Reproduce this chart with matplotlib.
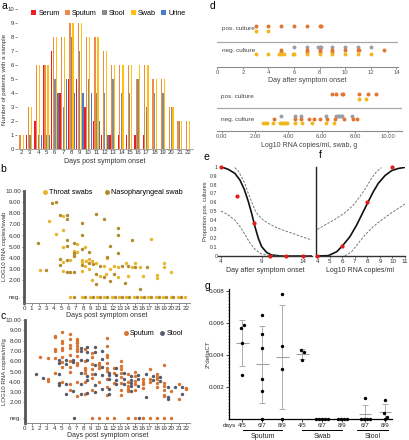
import matplotlib.pyplot as plt
import matplotlib.transforms as mtransforms
import numpy as np
from matplotlib.lines import Line2D

plt.rcParams['font.family'] = ['Liberation Sans', 'DejaVu Sans']

# ---------------- data ----------------
# a: number of patients with a sample per day
a_days = list(range(2, 23))
a_serum = [0, 1, 2, 6, 7, 4, 5, 5, 3, 2, 1, 1, 1, 1, 1, 1, 0, 0, 0, 0, 0]
a_sputum = [1, 3, 6, 6, 8, 8, 9, 9, 8, 8, 7, 6, 6, 6, 5, 6, 5, 5, 3, 2, 2]
a_stool = [0, 1, 1, 1, 5, 3, 8, 7, 5, 4, 4, 5, 4, 4, 5, 3, 4, 4, 3, 2, 0]
a_swab = [1, 3, 6, 6, 8, 8, 9, 9, 8, 8, 7, 6, 6, 6, 6, 6, 5, 5, 3, 2, 2]
a_urine = [0, 0, 1, 1, 4, 5, 4, 4, 4, 2, 1, 0, 0, 0, 0, 0, 0, 0, 0, 0, 0]

# b: swabs, log10 RNA copies
throat_day = [2.2, 3.3, 4.3, 5.2, 5.2, 5.2, 5.2, 5.2, 6.2, 7.2, 6.8, 6.8, 7.2, 8.2, 7.8, 7.8, 7.8,
              8.4, 8.2, 8.8, 8.8, 9.2, 9.2, 9.8, 10.3, 10.8, 11.1, 11.2, 11.7, 12.2, 12.8, 12.8,
              13.9, 14.1, 14.6, 15.1, 15.7, 16.2, 17.2, 18.1, 18.1, 19.0, 19.0, 20.0]
throat_val = [2.95, 7.3, 6.15, 7.75, 6.5, 5.0, 3.65, 2.85, 3.85, 5.25, 4.6, 4.3, 4.5, 4.95, 3.85, 3.65, 2.85,
              3.75, 3.25, 3.9, 3.0, 3.7, 2.0, 3.55, 2.4, 3.3, 2.55, 4.0, 3.0, 3.3, 3.2, 2.3,
              3.5, 2.35, 3.2, 3.5, 3.2, 2.4, 5.7, 2.45, 2.2, 3.5, 3.2, 2.7]
naso_day = [1.9, 2.9, 3.8, 4.3, 4.8, 5.8, 5.8, 5.8, 5.8, 4.9, 4.9, 5.8, 5.8, 6.2, 6.8, 6.8, 6.8, 6.8,
            7.8, 7.8, 7.8, 7.8, 8.8, 8.8, 9.3, 9.8, 9.8, 9.8, 10.3, 10.8, 10.8, 11.2, 11.7, 11.7,
            12.2, 12.8, 12.8, 12.8, 13.3, 13.7, 14.1, 14.7, 15.1, 15.7, 16.7]
naso_val = [5.35, 2.9, 8.9, 8.95, 7.85, 7.85, 7.45, 5.6, 5.1, 3.9, 3.4, 3.8, 2.7, 2.7, 5.35, 4.45, 4.2, 2.7,
            7.15, 6.05, 4.75, 3.4, 4.55, 3.5, 3.45, 7.95, 2.6, 1.7, 3.3, 7.45, 2.3, 4.1, 5.05, 1.95,
            2.55, 6.7, 6.0, 4.45, 3.3, 1.75, 3.3, 5.6, 3.2, 1.25, 3.15]
throat_neg_day = [6.2, 7.8, 8.9, 9.9, 10.9, 11.9, 12.9, 13.9, 14.9, 15.9, 16.9, 17.9, 18.9, 19.9, 20.9, 21.9]
naso_neg_day = [6.8, 8.2, 9.3, 10.3, 11.3, 12.3, 13.3, 14.3, 15.3, 16.3, 17.3, 18.3, 19.3, 20.3, 21.3]

# c: sputum and stool
sputum_day = ([2.1] + [3.2] * 3 + [4.1] * 6 + [5.1] * 9 + [6.1] * 10 + [7.15] * 11 + [8.15] * 7
              + [9.15] * 7 + [10.15] * 4 + [11.15] * 10 + [12.2] * 3 + [13.1] * 8 + [14.1] * 5
              + [15.1] * 5 + [16.1] * 4 + [17.1] * 3 + [18.1] * 5 + [19.0] * 6 + [20.0] + [21.0] * 2 + [22.0] * 2)
sputum_val = [6.45,
              6.35, 4.25, 4.05,
              8.45, 8.35, 7.2, 6.95, 6.35, 4.85,
              8.8, 8.0, 7.75, 7.3, 7.1, 6.45, 5.95, 5.45, 4.0,
              8.6, 8.15, 7.6, 7.3, 6.6, 6.05, 5.4, 4.95, 3.75, 3.2,
              8.2, 8.0, 7.75, 7.45, 7.2, 6.95, 6.5, 5.8, 5.6, 4.0, 2.65,
              7.2, 6.05, 5.35, 5.1, 4.85, 4.0, 2.8,
              6.8, 6.4, 5.75, 5.2, 4.8, 4.4, 3.2,
              5.85, 5.6, 5.3, 4.0,
              8.25, 7.45, 6.6, 6.4, 5.85, 5.3, 5.05, 4.25, 3.5, 2.75,
              5.3, 4.9, 3.85,
              6.0, 5.5, 5.2, 4.9, 4.5, 3.85, 3.2, 2.7,
              4.75, 3.95, 3.6, 3.3, 3.15,
              5.0, 4.6, 4.1, 3.8, 3.2,
              4.25, 4.0, 3.8, 3.4,
              5.2, 4.25, 4.0,
              4.75, 4.5, 4.3, 3.9, 3.5,
              5.6, 3.9, 3.6, 3.2, 2.75, 2.6,
              3.15,
              3.8, 2.3,
              3.4, 3.3]
stool_day = ([1.5, 2.5] + [4.6] * 5 + [5.6] * 4 + [6.6] * 3 + [7.6] * 6 + [8.5] * 6 + [9.5] * 6
             + [10.5] * 5 + [11.5] * 5 + [12.5] * 4 + [13.5] * 3 + [14.5] * 5 + [15.5] * 3
             + [16.5] * 2 + [17.5] * 2 + [18.5] * 2 + [19.5] * 3 + [20.5] + [21.5] * 2)
stool_val = [4.75, 4.4,
             6.1, 5.85, 4.75, 3.85, 3.7,
             6.1, 5.75, 3.75, 2.8,
             6.15, 5.9, 3.1,
             7.25, 6.95, 6.1, 4.9, 3.8, 2.85,
             7.4, 6.9, 6.1, 4.6, 4.2, 2.95,
             7.4, 6.9, 5.6, 4.75, 3.7, 3.0,
             7.0, 6.2, 5.45, 4.7, 3.3,
             4.9, 4.7, 4.3, 3.3, 2.85,
             5.3, 4.7, 4.2, 3.75,
             4.9, 4.25, 3.8,
             4.55, 4.2, 3.9, 3.6, 3.1,
             4.7, 4.3, 3.55,
             4.75, 2.5,
             4.6, 4.2,
             4.5, 4.1,
             3.5, 2.5, 2.35,
             3.5,
             3.5, 2.85]
sputum_neg_day = [9.15, 10.15, 11.15, 12.2, 14.1, 15.1, 16.1, 17.1, 18.1, 19.0, 20.0]
stool_neg_day = [6.7, 15.6]

# d: culture result by day / by RNA load
d1_pos_sputum = [3, 4, 5, 6, 7, 8, 8.1]
d1_pos_swab = [3, 4]
d1_neg_stool = [6, 7, 7.9, 8, 8.1, 9, 10, 11, 12]
d1_neg_sputum = [5, 5, 7, 7, 8, 8, 9, 9, 10, 11, 11.1, 13]
d1_neg_swab = [3, 4, 4.8, 5, 5.2, 5.9, 6, 7, 8, 9, 10, 11, 12]
d2_pos_sputum = [6.63, 6.87, 7.19, 7.27, 8.23, 8.8, 9.28]
d2_pos_swab = [8.23, 8.67]
d2_neg_stool = [3.57, 4.42, 4.78, 6.26, 6.87, 6.97, 7.05, 7.13, 7.23, 7.83]
d2_neg_sputum = [3.11, 4.42, 4.78, 5.22, 5.52, 5.92, 6.33, 6.78, 7.33, 7.87, 8.13]
d2_neg_swab = [2.45, 2.58, 2.7, 3.05, 3.51, 3.62, 3.72, 3.82, 3.92, 4.42, 4.82, 5.42, 6.26, 6.72]

# e: proportion positive cultures by day
e_day = [4, 6, 8, 10, 12, 14]
e_prop = [1.0, 0.667, 0.375, 0, 0, 0]
e_fit_x = [4.0, 4.9, 5.7, 6.33, 6.86, 7.35, 7.75, 8.16, 8.57, 8.98, 9.59, 10.2, 11.4, 15.1]
e_fit_y = [1.0, 0.97, 0.926, 0.85, 0.745, 0.61, 0.48, 0.33, 0.2, 0.105, 0.04, 0.011, 0.0, 0.0]
e_hi_x = [5.7, 6.1, 6.5, 6.95, 7.35, 7.75, 8.15, 8.55, 9.2, 10.0, 11.0, 12.0, 13.05, 14.1, 15.1]
e_hi_y = [0.99, 0.955, 0.89, 0.805, 0.70, 0.61, 0.515, 0.46, 0.40, 0.355, 0.31, 0.277, 0.245, 0.21, 0.18]
e_lo_x = [4.0, 4.9, 5.71, 6.33, 6.94, 7.55, 8.16, 8.78, 9.59, 10.6, 15.1]
e_lo_y = [0.504, 0.46, 0.4, 0.33, 0.24, 0.145, 0.077, 0.03, 0.01, 0.0, 0.0]

# f: proportion positive cultures by RNA load
f_load = [4, 6, 8, 10]
f_prop = [0, 0.116, 0.6, 1.0]
f_fit_x = [4.0, 4.88, 5.55, 6.02, 6.6, 7.14, 7.67, 8.07, 8.47, 8.87, 9.4, 9.93, 10.46, 11.0]
f_fit_y = [0.0, 0.004, 0.048, 0.116, 0.216, 0.347, 0.497, 0.61, 0.72, 0.814, 0.9, 0.956, 0.98, 0.993]
f_hi_x = [4.0, 4.61, 5.41, 6.2, 6.87, 7.4, 7.93, 8.33, 8.73, 9.13]
f_hi_y = [0.298, 0.347, 0.41, 0.485, 0.57, 0.665, 0.776, 0.87, 0.945, 0.99]
f_lo_x = [6.2, 6.73, 7.27, 7.8, 8.47, 9.13, 9.93, 11.0]
f_lo_y = [0.0, 0.048, 0.142, 0.235, 0.33, 0.403, 0.485, 0.582]

# g: 2^deltaCT by sample type and day pair
g_labels = ['4/5', '6/7', '8/9', '4/5', '6/7', '8/9', '6/7', '8/9']
g_groups = ['Sputum', 'Swab', 'Stool']
g_values = [[0.0057, 0.00585, 0.00472, 0.00273],
            [0.00648, 0.0053, 0.0044, 0.00248, 0.00173, 0.0],
            [0.0078, 0.00456, 0.00309, 0.0],
            [0.0043, 0.00415, 0.00367],
            [0.0, 0.0, 0.0, 0.0, 0.0],
            [0.0, 0.0, 0.0, 0.0],
            [0.00127, 0.0, 0.0, 0.0, 0.0],
            [0.00113, 0.00034, 0.00012, 0.0]]

# ---------------- figure ----------------
W, H = 410, 440
fig = plt.figure(figsize=(W / 100, H / 100), dpi=100)

TICK = 4.5
LAB = 5.0
YLAB = 4.4
GREYTXT = '#333333'


def px_axes(x0, y0, x1, y1):
    return fig.add_axes([x0 / W, 1 - y1 / H, (x1 - x0) / W, (y1 - y0) / H])


def letter(x, y, s):
    fig.text(x / W, 1 - y / H, s, fontsize=7.5, ha='left', va='center')


def ylabel_at(ax, text, px_x, size=YLAB):
    # put the y label centre at a given figure pixel column
    ax.set_ylabel(text, fontsize=size, color=GREYTXT, va='center')
    bb = ax.get_position()
    ax.yaxis.set_label_coords((px_x / W - bb.x0) / bb.width, 0.5)


# ---- a ----
ax = px_axes(17, 9.3, 193, 149)
series = [('Serum', a_serum, '#ee1d23'), ('Sputum', a_sputum, '#f08a4b'),
          ('Stool', a_stool, '#8a8a8a'), ('Swab', a_swab, '#fdc20f'), ('Urine', a_urine, '#4a7bc8')]
x = np.array(a_days)
for i, (name, vals, col) in enumerate(series):
    ax.bar(x + (i - 2) * 0.19, vals, width=0.155, color=col, label=name)
ax.set_xlim(1.45, 22.6)
ax.set_ylim(0, 10)
ax.set_xticks(a_days)
ax.set_yticks(range(0, 11))
for s in ['top', 'right', 'left']:
    ax.spines[s].set_visible(False)
ax.spines['bottom'].set_color('#999999')
ax.spines['bottom'].set_linewidth(0.6)
ax.tick_params(labelsize=4.3, length=1.2, width=0.4, pad=1, colors=GREYTXT)
ax.tick_params(axis='x', length=0)
ax.set_xlabel('Days post symptom onset', fontsize=LAB, labelpad=2, color=GREYTXT)
ylabel_at(ax, 'Number of patients with a sample', 5)
ax.legend(ncol=5, loc='upper left', bbox_to_anchor=(0.065, 1.015), frameon=False, fontsize=5.2,
          handlelength=0.7, handleheight=0.7, handletextpad=0.3, columnspacing=0.7, borderaxespad=0)
letter(1, 6, 'a')


def log_axes(ax):
    ax.set_xlim(0, 22.55)
    ax.set_ylim(0, 10)
    ax.set_xticks(range(0, 23))
    ax.set_yticks([0.5] + list(range(2, 11)))
    ax.set_yticklabels(['neg.'] + ['%.2f' % v for v in range(2, 11)])
    for s in ['top', 'right']:
        ax.spines[s].set_visible(False)
    ax.spines['left'].set_linewidth(2)
    ax.spines['left'].set_color('#555555')
    ax.spines['bottom'].set_linewidth(0.6)
    ax.spines['bottom'].set_color('#777777')
    ax.tick_params(labelsize=TICK, length=1.5, width=0.4, pad=1, colors=GREYTXT)
    ax.set_xlabel('Days post symptom onset', fontsize=LAB, labelpad=0.3, color=GREYTXT)


# ---- b ----
yel, dark = '#e8b52a', '#b08a2c'
ax = px_axes(24.3, 190.7, 190, 302.7)
ax.scatter(throat_day, throat_val, s=6, color=yel, lw=0, clip_on=False)
ax.scatter(naso_day, naso_val, s=6, color=dark, lw=0, clip_on=False)
ax.scatter(throat_neg_day, [0.5] * len(throat_neg_day), s=6, color=yel, lw=0)
ax.scatter(naso_neg_day, [0.5] * len(naso_neg_day), s=6, color=dark, lw=0)
log_axes(ax)
ylabel_at(ax, 'LOG10 RNA copies/swab', 4.5)
hb = [Line2D([], [], marker='o', ls='', color=yel, ms=2.5, label='Throat swabs'),
      Line2D([], [], marker='o', ls='', color=dark, ms=2.5, label='Nasopharyngeal swab')]
ax.legend(handles=hb, ncol=2, loc='upper left', bbox_to_anchor=(0.09, 1.04), frameon=False,
          fontsize=5.2, handlelength=0.8, handletextpad=0.2, columnspacing=1.6, borderaxespad=0)
letter(0.5, 169, 'b')

# ---- c ----
org, gry = '#d8722e', '#555c6b'
ax = px_axes(25, 320, 190, 423)
ax.scatter(sputum_day, sputum_val, s=6, color=org, lw=0, clip_on=False)
ax.scatter(stool_day, stool_val, s=6, color=gry, lw=0, clip_on=False)
ax.scatter(sputum_neg_day, [0.5] * len(sputum_neg_day), s=6, color=org, lw=0)
ax.scatter(stool_neg_day, [0.5] * len(stool_neg_day), s=6, color=gry, lw=0)
log_axes(ax)
ylabel_at(ax, 'LOG10 RNA copies/ml/g', 4.5)
hc = [Line2D([], [], marker='o', ls='', color=org, ms=2.5, label='Sputum'),
      Line2D([], [], marker='o', ls='', color=gry, ms=2.5, label='Stool')]
ax.legend(handles=hc, ncol=2, loc='center left', bbox_to_anchor=(0.575, 0.865), frameon=False,
          fontsize=5.2, handlelength=0.8, handletextpad=0.2, columnspacing=0.6, borderaxespad=0)
letter(0.5, 316, 'c')

# ---- d ----
d_org, d_yel, d_gry = '#e0762f', '#f2b71f', '#9a9ea8'


def stacked(vals):
    # repeated values stack upward by one dot
    out = []
    for i, v in enumerate(vals):
        out.append(vals[:i].count(v))
    return np.array(out)


def culture_axes(ax, rows, pos_sp, pos_sw, neg_st, neg_sp, neg_sw):
    ax.axhline(rows['sep'], color='#a8a8a8', lw=0.9)
    ax.scatter(pos_sp, [rows['pos_sp']] * len(pos_sp), s=8, color=d_org, lw=0, zorder=3)
    ax.scatter(pos_sw, [rows['pos_sw']] * len(pos_sw), s=8, color=d_yel, lw=0, zorder=3)
    ax.scatter(neg_st, [rows['neg_st']] * len(neg_st), s=8, color=d_gry, lw=0, zorder=3)
    ax.scatter(neg_sp, rows['neg_sp'] - 2 * stacked(neg_sp), s=8, color=d_org, lw=0, zorder=3)
    ax.scatter(neg_sw, [rows['neg_sw']] * len(neg_sw), s=8, color=d_yel, lw=0, zorder=3)
    tr = mtransforms.blended_transform_factory(ax.transAxes, ax.transData)
    ax.text(0.025, (rows['pos_sp'] + rows['pos_sw']) / 2, 'pos. culture', transform=tr,
            fontsize=4.6, va='center', color='#444444')
    ax.text(0.025, rows['neg_st'] - 3, 'neg. culture', transform=tr,
            fontsize=4.6, va='center', color='#444444')
    for s in ['top', 'right', 'left']:
        ax.spines[s].set_visible(False)
    ax.spines['bottom'].set_color('#8c8c8c')
    ax.spines['bottom'].set_linewidth(0.8)
    ax.set_yticks([])
    ax.tick_params(labelsize=4.2, length=1.5, width=0.5, pad=1, colors='#555555')


ax = px_axes(217.3, 18.7, 397.7, 66.7)
ax.set_xlim(0, 14.1)
ax.set_ylim(0, 48)
culture_axes(ax, dict(pos_sp=40.4, pos_sw=36, sep=25, neg_st=19.4, neg_sp=16.7, neg_sw=12.7),
             d1_pos_sputum, d1_pos_swab, d1_neg_stool, d1_neg_sputum, d1_neg_swab)
ax.set_xticks(range(0, 15, 2))
ax.set_xlabel('Day after symptom onset', fontsize=5.0, labelpad=1.5, color='#444444')
letter(210, 6, 'd')

ax = px_axes(216.7, 85, 401.7, 131)
ax.set_xlim(-0.3, 10.8)
ax.set_ylim(0, 46)
culture_axes(ax, dict(pos_sp=36.7, pos_sw=32.3, sep=22.7, neg_st=15, neg_sp=11.7, neg_sw=8.3),
             d2_pos_sputum, d2_pos_swab, d2_neg_stool, d2_neg_sputum, d2_neg_swab)
ax.set_xticks(range(0, 11, 2))
ax.set_xticklabels(['%.2f' % v for v in range(0, 11, 2)])
ax.set_xlabel('Log10 RNA copies/ml, swab, g', fontsize=5.0, labelpad=1.5, color='#444444')

# ---- e / f ----
red = '#e3191c'


def prop_axes(ax):
    ax.set_ylim(0, 1)
    for s in ['top', 'right']:
        ax.spines[s].set_visible(False)
    ax.spines['bottom'].set_linewidth(1.0)
    ax.spines['bottom'].set_color('#333333')
    ax.tick_params(labelsize=TICK, length=1.5, width=0.5, pad=1, colors=GREYTXT)


ax = px_axes(218.5, 166.7, 311.6, 256)
ax.plot(e_fit_x, e_fit_y, color='#111111', lw=1.2)
ax.plot(e_hi_x, e_hi_y, color='#777777', lw=0.7, ls=(0, (2.5, 1.5)))
ax.plot(e_lo_x, e_lo_y, color='#777777', lw=0.7, ls=(0, (2.5, 1.5)))
ax.scatter(e_day, e_prop, s=9, color=red, lw=0, zorder=4, clip_on=False)
ax.set_xlim(3.7, 15.1)
prop_axes(ax)
ax.spines['left'].set_visible(False)
ax.set_xticks([4, 9, 14])
ax.set_yticks(np.arange(0, 1.01, 0.1))
ax.set_yticklabels(['0'] + ['%.1f' % v for v in np.arange(0.1, 0.95, 0.1)] + ['1'])
ax.tick_params(axis='y', labelsize=3.8, length=0, pad=0.8)
ax.set_xlabel('Day after symptom onset', fontsize=LAB, labelpad=1.5, color=GREYTXT)
ylabel_at(ax, 'Proportion pos. cultures', 205.8, size=4.1)
letter(204, 157, 'e')

ax = px_axes(315.7, 166.7, 405, 256)
ax.plot(f_fit_x, f_fit_y, color='#111111', lw=1.2)
ax.plot(f_hi_x, f_hi_y, color='#777777', lw=0.7, ls=(0, (2.5, 1.5)))
ax.plot(f_lo_x, f_lo_y, color='#777777', lw=0.7, ls=(0, (2.5, 1.5)))
ax.scatter(f_load, f_prop, s=9, color=red, lw=0, zorder=4, clip_on=False)
ax.set_xlim(3.87, 11)
prop_axes(ax)
ax.spines['left'].set_linewidth(1.0)
ax.spines['left'].set_color('#222222')
ax.set_yticks([])
ax.set_xticks(range(4, 12))
ax.set_xlabel('Log10 RNA copies/ml', fontsize=LAB, labelpad=1.5, color=GREYTXT)
letter(319, 155, 'f')

# ---- g ----
ax = px_axes(229, 289.3, 392, 418.5)
g_pos = np.r_[0:6, 6.15, 7.15]
for p, vals in zip(g_pos, g_values):
    vals = np.array(vals)
    # spread near-equal values sideways
    offs = np.zeros(len(vals))
    used = np.zeros(len(vals), bool)
    for i in range(len(vals)):
        if used[i]:
            continue
        grp = [j for j in range(len(vals)) if not used[j] and abs(vals[j] - vals[i]) < 0.0003]
        for k, j in enumerate(grp):
            offs[j] = (k - (len(grp) - 1) / 2) * 0.15
            used[j] = True
    ax.scatter(p + offs, vals, s=6, color='black', lw=0, zorder=4, clip_on=False)
    m = vals.mean()
    sd = vals.std(ddof=1)
    ax.hlines(m, p - 0.32, p + 0.32, color='#a0a0a0', lw=0.8, zorder=3)
    ax.errorbar(p, m, yerr=sd, fmt='none', ecolor='#a0a0a0', elinewidth=0.6, capsize=2.2,
                capthick=0.6, zorder=3)
ax.set_xlim(-0.67, 7.5)
ax.set_ylim(0, 0.0081)
ax.set_yticks([0.002, 0.004, 0.006, 0.008])
ax.set_yticklabels(['0.002', '0.004', '0.006', '0.008'])
ax.set_yticks(np.arange(0, 0.0081, 0.0002), minor=True)
ax.set_xticks(g_pos)
ax.set_xticklabels(g_labels)
for s in ['top', 'right']:
    ax.spines[s].set_visible(False)
ax.spines['left'].set_linewidth(0.9)
ax.spines['bottom'].set_linewidth(0.9)
ax.tick_params(labelsize=TICK, length=2, width=0.6, pad=1, colors='#222222')
ax.tick_params(which='minor', length=1, width=0.4)
ylabel_at(ax, '2^deltaCT', 208)
tr = mtransforms.blended_transform_factory(ax.transData, ax.transAxes)
ax.text(-0.3, -0.058, 'days', transform=tr, fontsize=TICK, ha='right', va='center', color='#222222')
for name, x0, x1 in zip(g_groups, [0.05, 2.98, 5.73], [2.0, 5.0, 7.31]):
    ax.plot([x0, x1], [-0.092, -0.092], transform=tr, color='black', lw=0.7, clip_on=False)
    ax.text((x0 + x1) / 2, -0.138, name, transform=tr, fontsize=LAB, ha='center', va='center',
            color='#222222')
letter(205, 286, 'g')

fig.savefig('out.png', dpi=100)
